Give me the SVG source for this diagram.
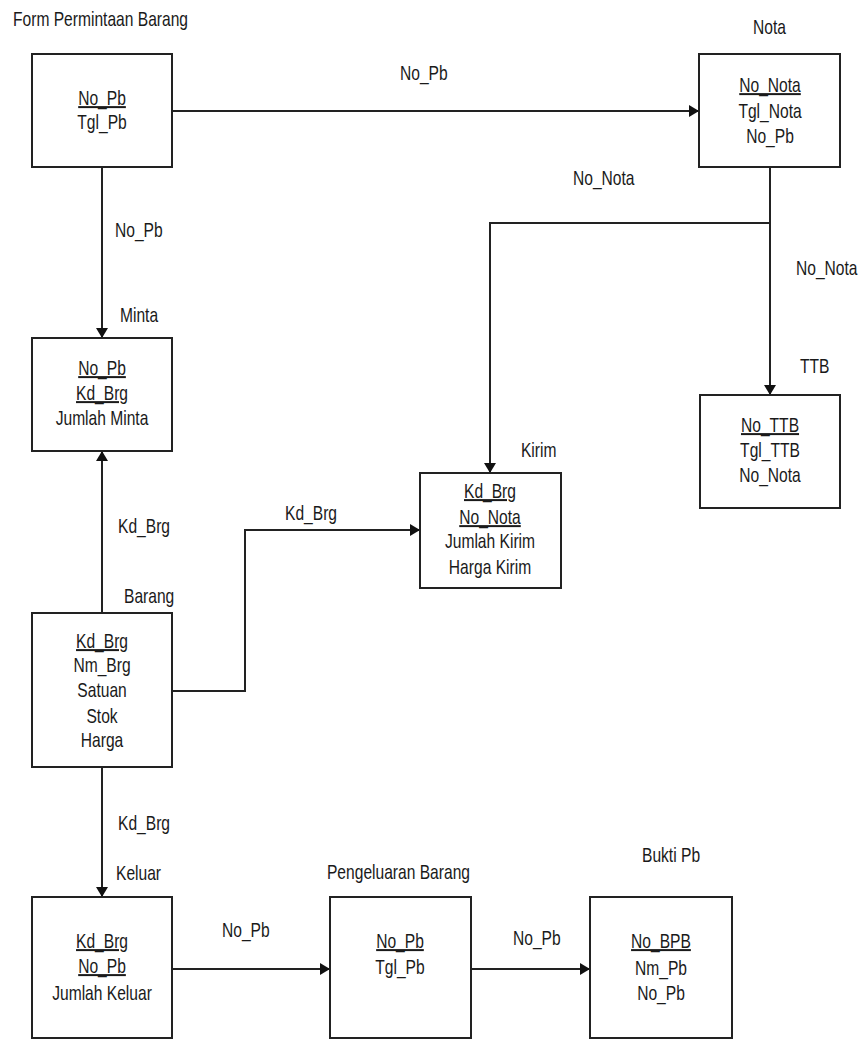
<svg xmlns="http://www.w3.org/2000/svg" width="864" height="1040" viewBox="0 0 864 1040">
<style>
text{font-family:"Liberation Sans",Arial,sans-serif;font-size:20px;fill:#1a1a1a}
.c{text-anchor:middle}
.u{text-decoration:underline}
rect{fill:#fff;stroke:#222;stroke-width:2}
.ln{fill:none;stroke:#222;stroke-width:2}
</style>
<defs>
<marker id="ah" viewBox="0 0 10 12" refX="10" refY="6" markerWidth="10" markerHeight="12" markerUnits="userSpaceOnUse" orient="auto">
<path d="M0,0 L10,6 L0,12 Z" fill="#111"/>
</marker>
</defs>
<g id="connectors">
<path class="ln" d="M172,111 H699" marker-end="url(#ah)"/>
<path class="ln" d="M102,167 V338" marker-end="url(#ah)"/>
<path class="ln" d="M770,167 V395" marker-end="url(#ah)"/>
<path class="ln" d="M770,223 H490 V473" marker-end="url(#ah)"/>
<path class="ln" d="M102,613 V451" marker-end="url(#ah)"/>
<path class="ln" d="M172,691 H245 V530 H420" marker-end="url(#ah)"/>
<path class="ln" d="M102,767 V897" marker-end="url(#ah)"/>
<path class="ln" d="M172,969 H330" marker-end="url(#ah)"/>
<path class="ln" d="M471,969 H590" marker-end="url(#ah)"/>
<g transform="scale(0.78 1)">
<text x="512.8" y="80">No_Pb</text>
<text x="147.4" y="237">No_Pb</text>
<text x="734.6" y="185">No_Nota</text>
<text x="1020.5" y="275">No_Nota</text>
<text x="151.3" y="533">Kd_Brg</text>
<text x="365.4" y="520">Kd_Brg</text>
<text x="151.3" y="830">Kd_Brg</text>
<text x="284.6" y="937">No_Pb</text>
<text x="657.7" y="945">No_Pb</text>
</g>
</g>
<g id="form-permintaan-barang">
<rect x="32" y="54" width="140" height="113"/>
<g transform="scale(0.78 1)">
<text x="16.7" y="26">Form Permintaan Barang</text>
<text class="c u" x="130.8" y="105">No_Pb</text>
<text class="c" x="130.8" y="129">Tgl_Pb</text>
</g>
</g>
<g id="nota">
<rect x="699" y="54" width="141" height="113"/>
<g transform="scale(0.78 1)">
<text x="965.4" y="34">Nota</text>
<text class="c u" x="987.2" y="92">No_Nota</text>
<text class="c" x="987.2" y="118">Tgl_Nota</text>
<text class="c" x="987.2" y="143">No_Pb</text>
</g>
</g>
<g id="minta">
<rect x="32" y="338" width="140" height="113"/>
<g transform="scale(0.78 1)">
<text x="153.8" y="322">Minta</text>
<text class="c u" x="130.8" y="375">No_Pb</text>
<text class="c u" x="130.8" y="400">Kd_Brg</text>
<text class="c" x="130.8" y="425">Jumlah Minta</text>
</g>
</g>
<g id="ttb">
<rect x="700" y="395" width="140" height="113"/>
<g transform="scale(0.78 1)">
<text x="1025.6" y="373">TTB</text>
<text class="c u" x="987.2" y="432">No_TTB</text>
<text class="c" x="987.2" y="457">Tgl_TTB</text>
<text class="c" x="987.2" y="482">No_Nota</text>
</g>
</g>
<g id="kirim">
<rect x="420" y="473" width="141" height="115"/>
<g transform="scale(0.78 1)">
<text x="667.9" y="457">Kirim</text>
<text class="c u" x="628.2" y="498">Kd_Brg</text>
<text class="c u" x="628.2" y="524">No_Nota</text>
<text class="c" x="628.2" y="548">Jumlah Kirim</text>
<text class="c" x="628.2" y="574">Harga Kirim</text>
</g>
</g>
<g id="barang">
<rect x="32" y="613" width="140" height="154"/>
<g transform="scale(0.78 1)">
<text x="159" y="603">Barang</text>
<text class="c u" x="130.8" y="648">Kd_Brg</text>
<text class="c" x="130.8" y="672">Nm_Brg</text>
<text class="c" x="130.8" y="697">Satuan</text>
<text class="c" x="130.8" y="723">Stok</text>
<text class="c" x="130.8" y="747">Harga</text>
</g>
</g>
<g id="keluar">
<rect x="32" y="897" width="140" height="141"/>
<g transform="scale(0.78 1)">
<text x="148.7" y="880">Keluar</text>
<text class="c u" x="130.8" y="948">Kd_Brg</text>
<text class="c u" x="130.8" y="973">No_Pb</text>
<text class="c" x="130.8" y="1000">Jumlah Keluar</text>
</g>
</g>
<g id="pengeluaran-barang">
<rect x="330" y="897" width="141" height="141"/>
<g transform="scale(0.78 1)">
<text x="419.2" y="879">Pengeluaran Barang</text>
<text class="c u" x="512.8" y="948">No_Pb</text>
<text class="c" x="512.8" y="974">Tgl_Pb</text>
</g>
</g>
<g id="bukti-pb">
<rect x="590" y="897" width="142" height="141"/>
<g transform="scale(0.78 1)">
<text x="823.1" y="862">Bukti Pb</text>
<text class="c u" x="847.4" y="948">No_BPB</text>
<text class="c" x="847.4" y="975">Nm_Pb</text>
<text class="c" x="847.4" y="1000">No_Pb</text>
</g>
</g>
</svg>
